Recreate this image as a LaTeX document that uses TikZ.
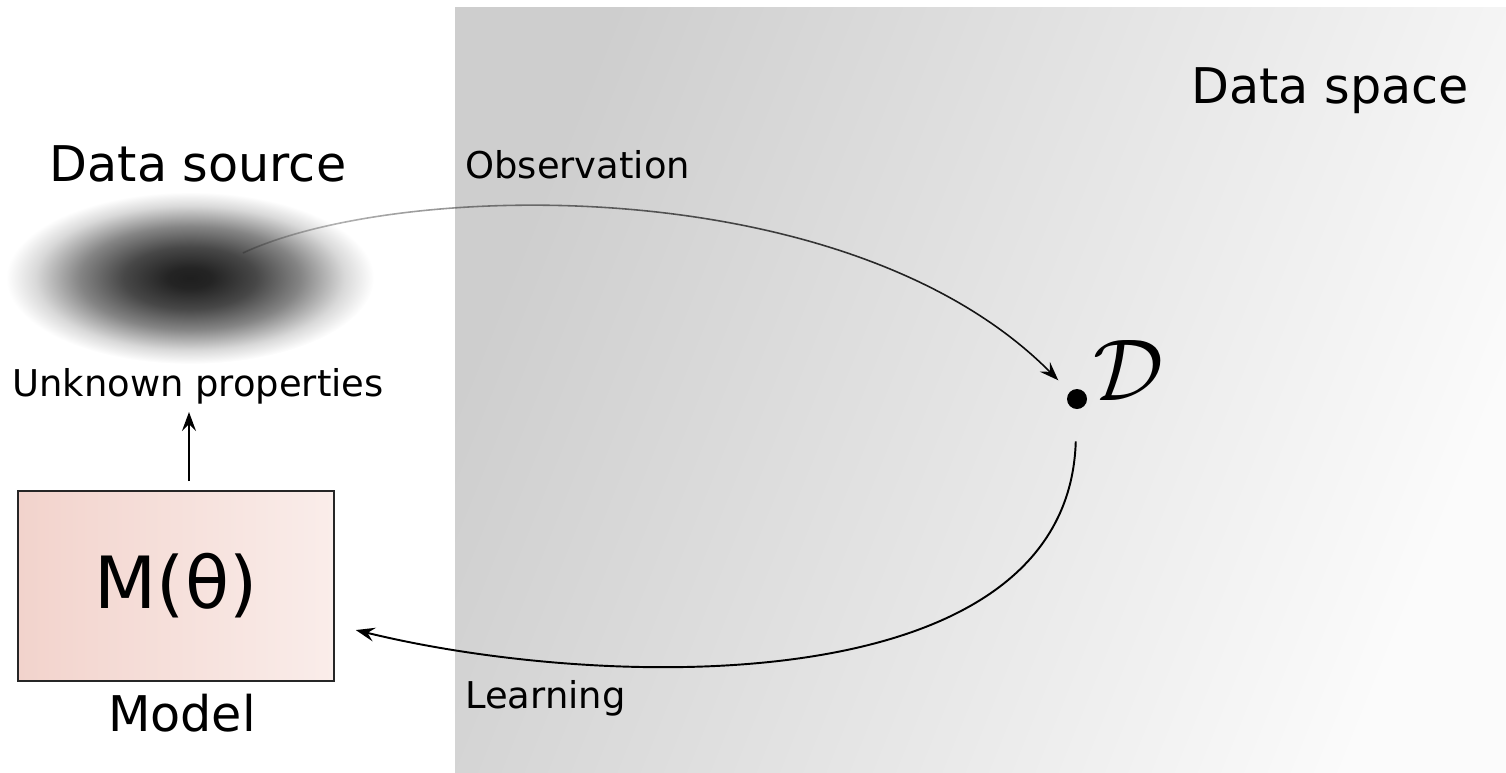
\RequirePackage{fix-cm}
\documentclass[tikz,border=0pt]{standalone}
\usepackage{fontspec}
\setmainfont{DejaVu Sans}
\usepackage{xcolor}
\usepackage{tikz}
\usetikzlibrary{arrows.meta, fadings}
\definecolor{panelDark}{RGB}{206,206,206}
\definecolor{panelLight}{RGB}{251,251,251}
\definecolor{boxLeft}{RGB}{242,211,204}
\definecolor{boxRight}{RGB}{250,237,234}
\pgfdeclareradialshading{srcblob}{\pgfpoint{0bp}{0bp}}{%
  color(0bp)=(black!88); color(3bp)=(black!86); color(9bp)=(black!72);
  color(15bp)=(black!48); color(21bp)=(black!15); color(25bp)=(white); color(50bp)=(white)}
\tikzfading[name=obsfade, left color=transparent!78, middle color=transparent!35, right color=transparent!0]
\tikzset{
  bigtxt/.style={font=\fontsize{28}{34}\selectfont, inner sep=0pt},
  midtxt/.style={font=\fontsize{21}{26}\selectfont, inner sep=0pt},
  conn/.style={-{Stealth[length=3.8mm, width=2.8mm, inset=1.4mm]}, line width=1.1pt},
  modelbox/.style={draw=black!85, line width=1.1pt, minimum width=6.32cm, minimum height=3.8cm,
    left color=boxLeft, right color=boxRight, font=\fontsize{41}{48}\selectfont},
}

\begin{document}
\begin{tikzpicture}[x=0.02cm, y=-0.02cm]
  \useasboundingbox (0,0) rectangle (1506,772);

  % data space panel, dark top left -> light bottom right
  \shade[left color=panelDark, right color=panelLight, shading angle=68] (455,7) rectangle (1506,772);
  \node[bigtxt, anchor=base] (spacelbl) at (1330,103) {Data space};

  % data source blob
  \shade[shading=srcblob] (190,278) ellipse [x radius=184, y radius=86];
  \coordinate (obsstart) at (243,253);
  \node[bigtxt, anchor=base] (srclbl) at (198,181) {Data source};
  \node[midtxt, anchor=base] (unk) at (198,396) {Unknown properties};

  % model
  \node[modelbox] (model) at (176,586) {M(θ)};
  \node[bigtxt, anchor=base] (modellbl) at (182,731) {Model};

  % observed data set
  \node[circle, fill=black, inner sep=0pt, minimum size=0.4cm] (dot) at (1077,399) {};
  \node[font=\fontsize{50}{60}\selectfont, anchor=base west, inner sep=0pt] (dlbl) at (1093,400) {$\mathcal{D}$};

  % connectors
  \draw[conn, shorten <=0.18cm, shorten >=0.16cm] (model.north -| 189,0) -- (unk.south -| 189,0);
  \draw[conn, line width=0.9pt, path fading=obsfade, shorten >=0.32cm]
    (obsstart) .. controls (400,180) and (850,170) .. (dot);
  \draw[conn, shorten <=0.64cm, shorten >=0.43cm]
    (dot) .. controls (1068,705) and (600,690) .. (model);

  % edge labels
  \node[midtxt, anchor=base west] (obslbl) at (465,178) {Observation};
  \node[midtxt, anchor=base west] (learnlbl) at (465,708) {Learning};
\end{tikzpicture}
\end{document}
